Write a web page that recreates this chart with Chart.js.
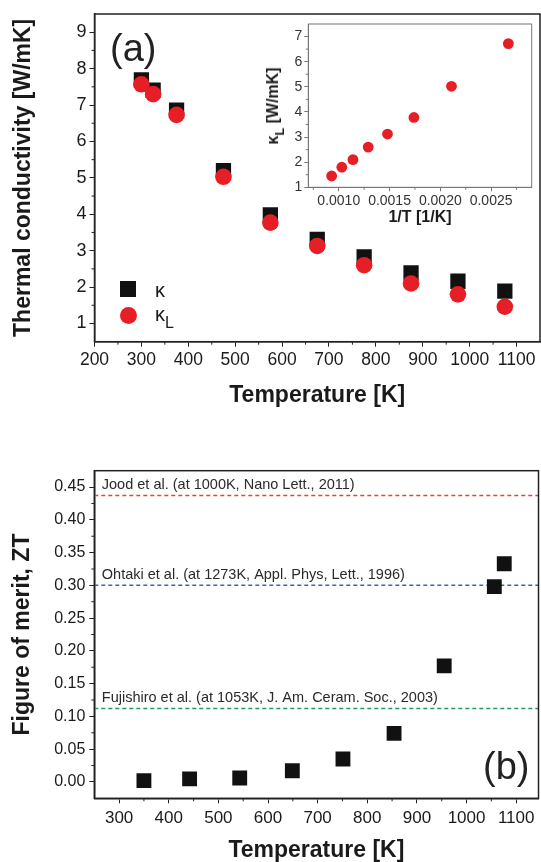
<!DOCTYPE html>
<html>
<head>
<meta charset="utf-8">
<script src="https://cdn.jsdelivr.net/npm/chart.js@4.4.0/dist/chart.umd.min.js"></script>
<style>
  body { margin: 0; background: #fff; }
  #wrap { position: relative; width: 541px; height: 862px; overflow: hidden;
          font-family: "Liberation Sans", Arial, sans-serif; color: #1a1a1a; }
  canvas { position: absolute; }
  .tag { position: absolute; font-size: 38px; line-height: 38px; color: #222; }
  .lg-sq { position: absolute; left: 120px; top: 281px; width: 16px; height: 16px; background: #111; }
  .lg-ci { position: absolute; left: 120px; top: 307px; width: 17px; height: 17px; border-radius: 50%; background: #e61e25; }
  .lg-tx { position: absolute; left: 155px; font-size: 20px; line-height: 20px; }
  .lg-tx sub, .ytl sub { font-size: 0.8em; vertical-align: -0.45em; line-height: 0; }
  .ytl { position: absolute; left: 273px; top: 106px; transform: translate(-50%, -50%) rotate(-90deg);
         white-space: nowrap; font-weight: bold; font-size: 16px; }
</style>
</head>
<body>
<div id="wrap">
  <canvas id="chartk" width="541" height="420" style="left:0;top:0"></canvas>
  <canvas id="chartinset" width="280" height="220" style="left:260px;top:10px"></canvas>
  <canvas id="chartzt" width="541" height="442" style="left:0;top:420px"></canvas>

  <div class="tag" style="left:110px;top:29px">(a)</div>
  <div class="tag" style="left:483px;top:747px">(b)</div>

  <div class="lg-sq"></div>
  <div class="lg-tx" style="top:280px">&kappa;</div>
  <div class="lg-ci"></div>
  <div class="lg-tx" style="top:304px">&kappa;<sub>L</sub></div>

  <div class="ytl">&kappa;<sub>L</sub> [W/mK]</div>
</div>

<script>
// Panel (a): thermal conductivity
const tempA = [300, 325, 375, 475, 575, 675, 775, 875, 975, 1075];
const kappa = [7.69, 7.41, 6.86, 5.20, 3.98, 3.31, 2.83, 2.39, 2.16, 1.89];
const kappaL = [7.57, 7.30, 6.73, 5.03, 3.77, 3.13, 2.60, 2.10, 1.80, 1.46];
const ticksAX = [200, 300, 400, 500, 600, 700, 800, 900, 1000, 1100];
const ticksAY = [1, 2, 3, 4, 5, 6, 7, 8, 9];

// Inset: kappa_L vs 1/T
const invT = [0.00093, 0.00103, 0.00114, 0.00129, 0.00148, 0.00174, 0.00211, 0.00267];
const kappaLInv = [1.45, 1.80, 2.10, 2.60, 3.12, 3.78, 5.02, 6.72];
const ticksInX = [0.0010, 0.0015, 0.0020, 0.0025];
const ticksInY = [1, 2, 3, 4, 5, 6, 7];

// Panel (b): figure of merit
const tempB = [350, 442, 543, 649, 751, 854, 955, 1056, 1076];
const zt = [0.002, 0.0046, 0.006, 0.017, 0.035, 0.074, 0.177, 0.298, 0.333];
const refNames = [
  'Jood et al. (at 1000K, Nano Lett., 2011)',
  'Ohtaki et al. (at 1273K, Appl. Phys, Lett., 1996)',
  'Fujishiro et al. (at 1053K, J. Am. Ceram. Soc., 2003)'
];
const refZT = [0.437, 0.300, 0.112];
const ticksBX = [300, 400, 500, 600, 700, 800, 900, 1000, 1100];
const ticksBY = [0, 0.05, 0.10, 0.15, 0.20, 0.25, 0.30, 0.35, 0.40, 0.45];

const refColors = ['#e8403f', '#3d62c4', '#24985a'];
const red = '#e61e25';
const ink = '#1a1a1a';

Chart.defaults.font.family = '"Liberation Sans", Arial, sans-serif';
Chart.defaults.color = ink;

const pts = (xs, ys) => xs.map((x, i) => ({ x: x, y: ys[i] }));

function minorVals(min, max, first, step) {
  const out = [];
  let v = first - step / 2;
  while (v - step >= min) v -= step;
  for (; v <= max + 1e-12; v += step) if (v >= min - 1e-12) out.push(v);
  return out;
}

// frame round the plot + half-step minor ticks
const framePlugin = {
  id: 'frame',
  afterDraw(chart, args, o) {
    const { ctx, chartArea: a, scales } = chart;
    const xs = scales.x, ys = scales.y;
    ctx.save();
    ctx.strokeStyle = o.color;
    ctx.lineWidth = o.width;
    ctx.strokeRect(a.left, a.top, a.right - a.left, a.bottom - a.top);
    ctx.lineWidth = 1;
    minorVals(xs.min, xs.max, xs.ticks[0].value, o.xStep).forEach(v => {
      const p = xs.getPixelForValue(v);
      if (p - a.left < 2 || a.right - p < 2) return;
      ctx.beginPath(); ctx.moveTo(p, a.bottom); ctx.lineTo(p, a.bottom + o.minor); ctx.stroke();
    });
    minorVals(ys.min, ys.max, ys.ticks[0].value, o.yStep).forEach(v => {
      const p = ys.getPixelForValue(v);
      if (p - a.top < 2 || a.bottom - p < 2) return;
      ctx.beginPath(); ctx.moveTo(a.left, p); ctx.lineTo(a.left - o.minor, p); ctx.stroke();
    });
    ctx.restore();
  }
};

// text above each reference line
const refLabels = {
  id: 'refLabels',
  afterDatasetsDraw(chart) {
    const { ctx, chartArea: a, scales } = chart;
    ctx.save();
    ctx.font = '14.5px "Liberation Sans", Arial, sans-serif';
    ctx.fillStyle = '#2a2a2a';
    ctx.textBaseline = 'middle';
    refNames.forEach((t, i) => {
      ctx.fillText(t, a.left + 7.5, scales.y.getPixelForValue(refZT[i]) - 10.5);
    });
    ctx.restore();
  }
};

function axis(o) {
  return {
    type: 'linear',
    position: o.pos,
    min: o.min,
    max: o.max,
    afterBuildTicks: s => { s.ticks = o.ticks.map(v => ({ value: v })); },
    afterFit: s => {
      if (o.pos === 'bottom') s.height = o.size; else s.width = o.size;
      s.paddingLeft = 0; s.paddingRight = 0; s.paddingTop = 0; s.paddingBottom = 0;
    },
    ticks: { font: { size: o.font }, color: o.tickColor || ink, padding: o.pad,
             autoSkip: false, maxRotation: 0, callback: o.fmt || (v => v) },
    grid: { drawOnChartArea: false, drawTicks: true, tickLength: o.tl || 5,
            tickColor: o.line, tickWidth: 1 },
    border: { color: o.line, width: o.lw },
    title: o.title ? { display: true, text: o.title, font: { size: o.tsize, weight: 'bold', lineHeight: 1 },
                       color: ink, padding: o.tpad } : { display: false }
  };
}

const common = {
  responsive: false,
  animation: false,
  events: [],
  plugins: { legend: { display: false }, tooltip: { enabled: false } }
};

// Panel (a)
new Chart(document.getElementById('chartk'), {
  type: 'scatter',
  data: {
    datasets: [
      { label: 'kappaL', data: pts(tempA, kappaL), pointStyle: 'circle', pointRadius: 8.3,
        backgroundColor: red, borderColor: red, borderWidth: 0 },
      { label: 'kappa', data: pts(tempA, kappa), pointStyle: 'rect', pointRadius: 10.8,
        backgroundColor: '#111', borderColor: '#111', borderWidth: 0 }
    ]
  },
  options: Object.assign({}, common, {
    layout: { autoPadding: false, padding: { top: 14, right: 1, bottom: 12.5, left: 0 } },
    scales: {
      x: axis({ pos: 'bottom', min: 200, max: 1150, ticks: ticksAX, size: 420 - 12.5 - 341.7,
                font: 17.5, pad: 3, line: '#222', lw: 1.5,
                title: 'Temperature [K]', tsize: 23, tpad: { top: 0, bottom: 0 } }),
      y: axis({ pos: 'left', min: 0.5, max: 9.5, ticks: ticksAY, size: 94.5,
                font: 18, pad: 3, line: '#222', lw: 1.5,
                title: 'Thermal conductivity [W/mK]', tsize: 23, tpad: { top: 12.5, bottom: 0 } })
    },
    plugins: Object.assign({}, common.plugins, {
      frame: { color: '#222', width: 1.5, minor: 3, xStep: 100, yStep: 1 }
    })
  }),
  plugins: [framePlugin]
});

// Inset
new Chart(document.getElementById('chartinset'), {
  type: 'scatter',
  data: {
    datasets: [
      { label: 'kappaL', data: pts(invT, kappaLInv), pointStyle: 'circle', pointRadius: 5.4,
        backgroundColor: red, borderColor: red, borderWidth: 0 }
    ]
  },
  options: Object.assign({}, common, {
    layout: { autoPadding: false, padding: { top: 14, right: 8.3, bottom: 0, left: 0 } },
    scales: {
      x: axis({ pos: 'bottom', min: 0.0007, max: 0.0029, ticks: ticksInX, size: 220 - 177.3,
                font: 14, pad: 1, tl: 4, line: '#777', lw: 1, tickColor: '#333',
                fmt: v => v.toFixed(4),
                title: '1/T [1/K]', tsize: 16, tpad: { top: 0, bottom: 4.5 } }),
      y: axis({ pos: 'left', min: 1, max: 7.5, ticks: ticksInY, size: 48.3,
                font: 14, pad: 2, tl: 4, line: '#777', lw: 1, tickColor: '#333' })
    },
    plugins: Object.assign({}, common.plugins, {
      frame: { color: '#777', width: 1, minor: 2.5, xStep: 0.0005, yStep: 1 }
    })
  }),
  plugins: [framePlugin]
});

// Panel (b)
const refSets = refZT.map((v, i) => ({
  type: 'line', label: refNames[i],
  data: [{ x: 250, y: v }, { x: 1145, y: v }],
  borderColor: refColors[i], borderWidth: 1.5, borderDash: [4, 3],
  pointRadius: 0, showLine: true, fill: false
}));

new Chart(document.getElementById('chartzt'), {
  type: 'scatter',
  data: {
    datasets: [
      { label: 'ZT', data: pts(tempB, zt), pointStyle: 'rect', pointRadius: 10.5,
        backgroundColor: '#111', borderColor: '#111', borderWidth: 0 }
    ].concat(refSets)
  },
  options: Object.assign({}, common, {
    layout: { autoPadding: false, padding: { top: 50.7, right: 2.5, bottom: 0, left: 0 } },
    scales: {
      x: axis({ pos: 'bottom', min: 250, max: 1145, ticks: ticksBX, size: 442 - 378.3,
                font: 17, pad: 5, line: '#222', lw: 1.5,
                title: 'Temperature [K]', tsize: 23, tpad: { top: 0, bottom: 0 } }),
      y: axis({ pos: 'left', min: -0.025, max: 0.475, ticks: ticksBY, size: 94.3,
                font: 16, pad: 4, line: '#222', lw: 1.5, fmt: v => v.toFixed(2),
                title: 'Figure of merit, ZT', tsize: 23, tpad: { top: 11.5, bottom: 0 } })
    },
    plugins: Object.assign({}, common.plugins, {
      frame: { color: '#222', width: 1.5, minor: 3, xStep: 100, yStep: 0.05 }
    })
  }),
  plugins: [framePlugin, refLabels]
});
</script>
</body>
</html>
